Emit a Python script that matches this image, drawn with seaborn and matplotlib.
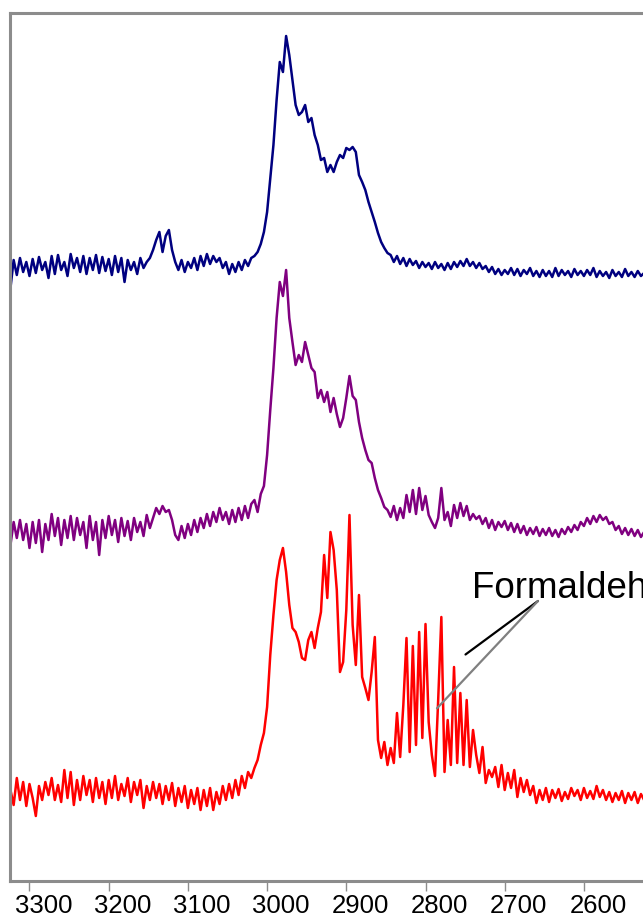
import numpy as np
import pandas as pd
import matplotlib
matplotlib.use('Agg')
import matplotlib.pyplot as plt
import matplotlib.transforms as mtransforms
import seaborn as sns

# wavenumber grid shared by the three spectra (cm-1)
wavenumber = np.arange(3324, 2520, -4)

# spectra, arbitrary units (already stacked with their offsets)
top_spectrum = [
    594, 622, 607, 624, 610, 620, 606, 623, 609, 625, 612, 620, 604, 626, 608, 627, 612, 620, 606, 628,
    614, 624, 610, 626, 608, 624, 612, 627, 609, 625, 611, 623, 607, 626, 610, 624, 600, 622, 612, 620,
    608, 624, 614, 620,
    624, 632, 642, 650, 630, 646, 652, 632, 620,
    612, 622, 610, 620, 614, 624, 612, 626, 616, 628, 618, 626, 620, 624, 614, 620, 608, 618, 610, 620,
    612, 622, 616, 624, 626,
    630, 638, 650, 670, 704, 737, 782, 820, 810, 846, 827, 802, 777, 767, 770, 777, 760, 764, 747, 737,
    722, 724, 710, 717, 710, 720, 727, 724, 734, 732, 735, 730, 707, 700, 692, 680, 670, 660, 649, 640,
    634, 629, 627,
    620, 626, 618, 624, 616, 623, 617, 621, 614, 620, 615, 619, 613, 620, 614, 618, 612, 619, 613, 620,
    615, 621, 616, 623, 616, 620, 614, 619, 613, 616, 610, 615, 608, 613, 607, 612, 608, 614, 607, 613,
    606, 612, 608, 614, 606, 611, 605, 612, 606, 611, 605, 614, 606, 612, 607, 611, 605, 613, 607, 611,
    606, 612, 607, 614, 605, 611, 606, 610, 604, 612, 606, 610, 605, 613, 606, 610, 605, 611, 606, 609,
]

middle_spectrum = [
    337, 360, 344, 362, 342, 358, 334, 360, 339, 362, 330, 358, 342, 368, 346, 364, 337, 362, 344, 366, 342,
    364, 347, 360, 334, 366, 342, 360, 327, 362, 344, 366, 347, 362, 340, 364, 346, 361, 342, 364, 350,
    360, 346, 367, 354, 364, 374, 368, 376, 370, 372, 362, 347, 342, 356, 344, 358, 347, 362, 350, 364,
    354, 368, 356, 370, 360, 374, 362, 370, 358, 372, 360, 374, 362, 376, 364, 378, 382,
    370, 388, 396, 427, 472, 514, 564, 600, 586, 612, 564, 540, 517, 527, 520, 540, 527, 514, 510, 484,
    492, 480, 490, 470, 484, 468, 455, 464, 484, 506, 486, 482, 460, 444, 432, 422, 419, 404, 392, 384,
    375, 372, 365,
    376, 362, 374, 364, 387, 370, 392, 368, 394, 372, 386, 367, 360, 354, 364, 394, 362, 370, 356, 377,
    364, 379, 366, 376, 362, 368, 363, 366, 358, 364, 354, 362, 352, 360, 355, 361, 352, 359, 350, 358,
    349, 356, 347, 354, 348, 355, 346, 353, 347, 354, 346, 352, 345, 353, 348, 355, 350, 357, 352, 360,
    356, 364, 358, 366, 360, 367, 362, 365, 358, 360, 352, 356, 348, 354, 347, 353, 346, 352, 345, 350,
]

bottom_spectrum = [
    92, 77, 104, 82, 100, 76, 98, 84, 66, 96, 82, 100, 87, 104, 82, 97, 80, 112, 84, 110,
    77, 102, 82, 106, 87, 102, 80, 104, 84, 100, 78, 102, 84, 106, 82, 98, 86, 104, 80, 100,
    87, 102, 74, 96, 82, 100, 84, 98, 78, 96, 82, 99, 76, 94, 80, 96, 74, 92, 78, 94,
    72, 92, 76, 94, 72, 90, 78, 96, 82, 98, 84, 102, 87, 106, 94, 110, 104, 114,
    122, 137, 149, 175, 227, 267, 302, 322, 334, 310, 277, 254, 250, 240, 224, 222, 242, 250, 234, 254,
    270, 327, 284, 350, 332, 292, 210, 220, 272, 367, 257, 217, 287, 205, 194, 182, 210, 245, 142, 124,
    140, 117, 134, 119, 169, 125, 177,
    244, 130, 236, 137, 250, 144, 258, 160, 127, 106, 182, 265, 110, 162, 117, 215, 119, 189, 117, 182,
    115, 152, 127, 109, 135, 99, 112, 105, 115, 95, 117, 92, 109, 94, 112, 85, 104, 90, 102, 87,
    96, 79, 92, 82, 94, 80, 92, 84, 93, 81, 90, 83, 94, 86, 92, 82, 94, 84, 91, 83,
    96, 85, 92, 82, 90, 80, 89, 82, 91, 79, 89, 82, 90, 79, 88, 82,
]

spectrum_names = ['top', 'middle', 'bottom']
spectrum_colors = ['#000080', '#800080', '#ff0000']
tick_values = [3300, 3200, 3100, 3000, 2900, 2800, 2700, 2600]
label_text = 'Formaldehyde'

frames = []
for name, values in zip(spectrum_names, [top_spectrum, middle_spectrum, bottom_spectrum]):
    frames.append(pd.DataFrame({'wavenumber': wavenumber, 'intensity': values, 'spectrum': name}))
df = pd.concat(frames, ignore_index=True)

sns.set_theme(style='white')
plt.rcParams['font.family'] = ['Liberation Sans', 'DejaVu Sans']

fig = plt.figure(figsize=(6.43, 9.22), dpi=100)
ax = fig.add_axes([10 / 643, 41 / 922, 633 / 643, 868 / 922])

sns.lineplot(data=df, x='wavenumber', y='intensity', hue='spectrum',
             palette=dict(zip(spectrum_names, spectrum_colors)),
             estimator=None, sort=False, legend=False, linewidth=1.8, ax=ax)

ax.set_xlim(3324.6, 2525.4)
ax.set_ylim(1, 869)
ax.set_xticks(tick_values)
ax.set_yticks([])
ax.set_xlabel('')
ax.set_ylabel('')

frame_color = '#8c8c8c'
for side in ['left', 'top', 'bottom']:
    ax.spines[side].set_color(frame_color)
    ax.spines[side].set_linewidth(2.2)
ax.spines['right'].set_visible(False)

ax.tick_params(axis='x', bottom=True, direction='out', length=7, width=1.0,
               color=frame_color, labelsize=18.5, labelcolor='black', pad=2.5)

# labels sit a little right of their tick marks in the original
shift = mtransforms.ScaledTranslation(0.14, 0, fig.dpi_scale_trans)
for lbl in ax.get_xticklabels():
    lbl.set_transform(lbl.get_transform() + shift)

# annotation: label with two leader lines (the label runs off the right edge, as in the original)
ax.text(2741, 284, label_text, fontsize=26.5, color='black', ha='left', va='baseline', clip_on=False)
ax.annotate('', xy=(2749.5, 227.5), xytext=(2658, 281),
            arrowprops=dict(arrowstyle='-', color='black', lw=1.6, shrinkA=0, shrinkB=0))
ax.annotate('', xy=(2785.5, 173.7), xytext=(2658, 281),
            arrowprops=dict(arrowstyle='-', color='#808080', lw=1.6, shrinkA=0, shrinkB=0))

fig.savefig('out.png', dpi=100, facecolor='white')
